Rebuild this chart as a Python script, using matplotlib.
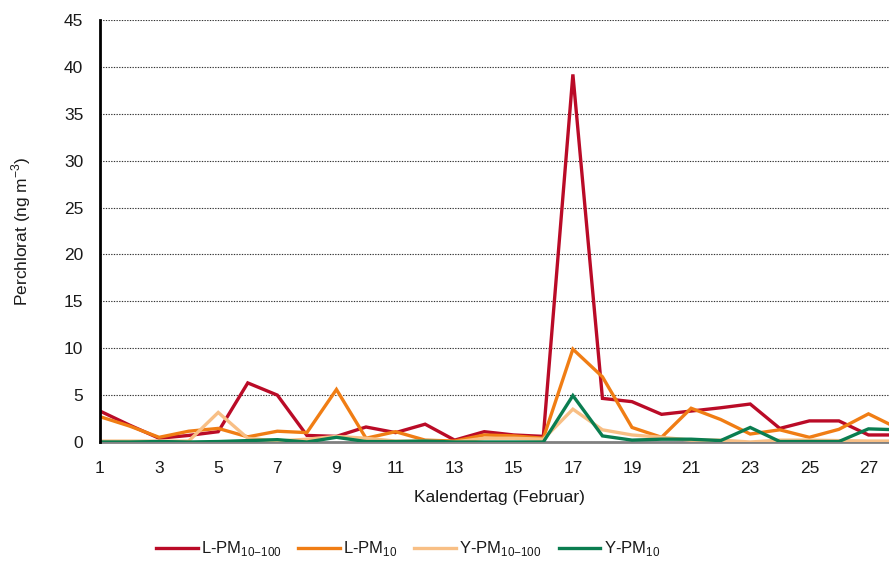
import matplotlib
matplotlib.use("Agg")
import matplotlib.pyplot as plt

# Daily perchlorate concentrations (ng m^-3), February
days = list(range(1, 29))
l_pm10_100 = [3.3, 1.8, 0.4, 0.7, 1.1, 6.3, 5.0, 0.7, 0.6, 1.6, 1.0, 1.9, 0.2, 1.1,
              0.75, 0.6, 39.2, 4.65, 4.3, 2.95, 3.3, 3.65, 4.05, 1.45, 2.25, 2.25, 0.75, 0.75]
l_pm10 = [2.7, 1.7, 0.5, 1.15, 1.45, 0.55, 1.15, 1.0, 5.6, 0.4, 1.1, 0.2, 0.1, 0.75,
          0.65, 0.4, 9.9, 6.95, 1.55, 0.5, 3.6, 2.4, 0.85, 1.3, 0.5, 1.35, 3.0, 1.45]
y_pm10_100 = [0.1, 0.1, 0.1, 0.1, 3.15, 0.4, 0.1, 0.3, 0.6, 0.4, 0.1, 0.1, 0.0, 0.4,
              0.4, 0.3, 3.5, 1.3, 0.75, 0.5, 0.2, 0.2, 0.0, 0.2, 0.2, 0.15, 0.1, 0.1]
y_pm10 = [0.0, 0.0, 0.05, 0.0, 0.05, 0.15, 0.25, 0.0, 0.5, 0.05, 0.05, 0.1, 0.0, 0.0,
          0.0, 0.0, 4.95, 0.65, 0.2, 0.3, 0.3, 0.15, 1.55, 0.05, 0.05, 0.05, 1.4, 1.3]

series_labels = [r"L-PM$_{10\mathrm{-}100}$", r"L-PM$_{10}$",
                 r"Y-PM$_{10\mathrm{-}100}$", r"Y-PM$_{10}$"]
series_colors = ["#BA0B27", "#F07D14", "#F8BF85", "#0A7D50"]
x_ticks = list(range(1, 29, 2))
y_ticks = list(range(0, 50, 5))

base_font = "Liberation Sans"
plt.rcParams["font.family"] = [base_font, "DejaVu Sans"]
plt.rcParams["mathtext.fontset"] = "custom"
plt.rcParams["mathtext.rm"] = base_font

fig = plt.figure(figsize=(8.89, 5.62), dpi=100)
ax = fig.add_axes([100 / 889, 120 / 562, 798 / 889, 422 / 562])

# draw order: light series underneath, then the others
order = [2, 1, 0, 3]
data = [l_pm10_100, l_pm10, y_pm10_100, y_pm10]
lines = {}
for i in order:
    (ln,) = ax.plot(days, data[i], color=series_colors[i], lw=2.4,
                    solid_joinstyle="miter", label=series_labels[i], zorder=3 + i * 0.1)
    lines[i] = ln

ax.set_xlim(1, 28)
ax.set_ylim(0, 45)
ax.set_xticks(x_ticks)
ax.set_yticks(y_ticks)
ax.tick_params(length=0, labelsize=12.5, colors="#1a1a1a")
ax.tick_params(axis="x", pad=14)
ax.tick_params(axis="y", pad=12)

ax.grid(axis="y", linestyle=(0, (1.2, 1.2)), color="#333333", linewidth=0.8, zorder=0)
ax.set_axisbelow(True)
for s in ("top", "right"):
    ax.spines[s].set_visible(False)
ax.spines["left"].set_color("black")
ax.spines["left"].set_linewidth(2)
ax.spines["bottom"].set_color("#808080")
ax.spines["bottom"].set_linewidth(2)
ax.spines["left"].set_zorder(5)

ax.set_xlabel("Kalendertag (Februar)", fontsize=12.5, color="#1a1a1a", labelpad=10)
ax.set_ylabel("Perchlorat (ng m$^{-3}$)", fontsize=12.5, color="#1a1a1a", labelpad=22)

leg = fig.legend([lines[i] for i in range(4)], series_labels, loc="center left",
                 bbox_to_anchor=(141 / 889, 1 - 549 / 562), ncol=4, frameon=False,
                 fontsize=12, handlelength=2.5, handletextpad=0.2, columnspacing=1.0,
                 labelcolor="#1a1a1a")

fig.savefig("out.png", dpi=100)
